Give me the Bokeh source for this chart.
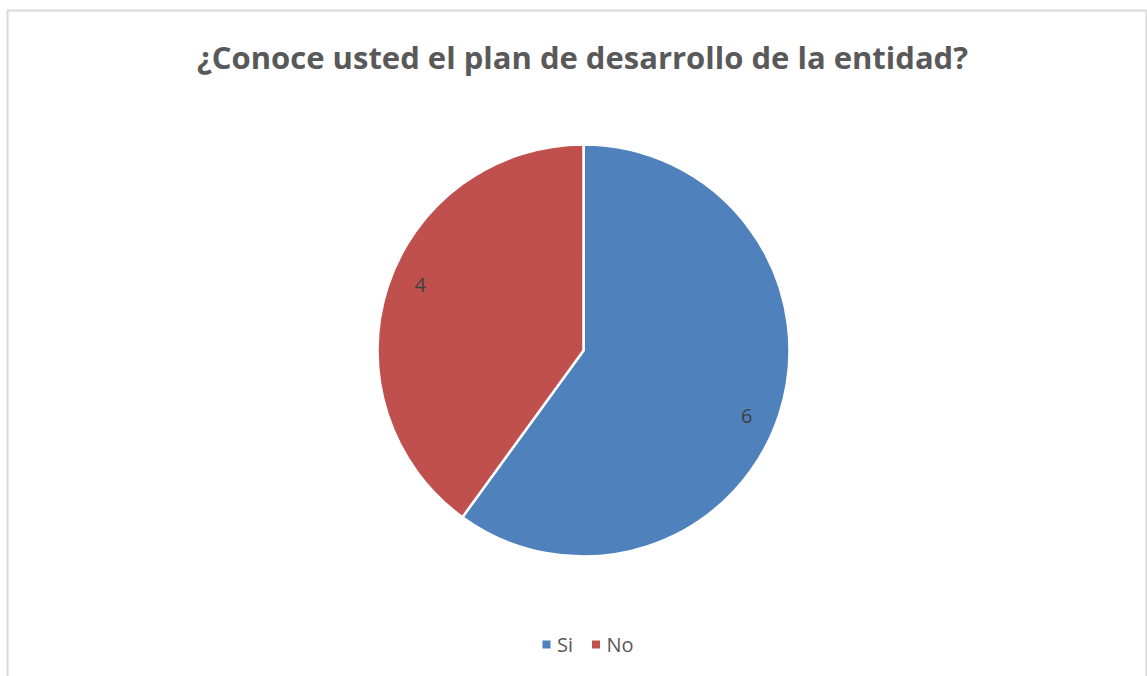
import math
from bokeh.plotting import figure
from bokeh.models import ColumnDataSource
from bokeh.core.properties import value
from bokeh.embed import file_html
from bokeh.resources import INLINE

title_text = "¿Conoce usted el plan de desarrollo de la entidad?"
categories = ["Si", "No"]
counts = [6, 4]
colors = ["#4F81BD", "#C0504D"]

W, H = 1147, 676
cx, cy, R = 583, H - 350, 206

total = sum(counts)
starts, ends, lx, ly = [], [], [], []
acc = 0.0
for c in counts:
    a0 = math.pi / 2 - 2 * math.pi * acc / total
    acc += c
    a1 = math.pi / 2 - 2 * math.pi * acc / total
    starts.append(a0)
    ends.append(a1)
    mid = (a0 + a1) / 2 - math.radians(4)
    lx.append(cx + 0.855 * R * math.cos(mid))
    ly.append(cy + 0.855 * R * math.sin(mid))

src = ColumnDataSource(dict(cat=categories, val=counts, color=colors,
                            start=starts, end=ends, lx=lx, ly=ly,
                            label=[str(v) for v in counts]))

p = figure(width=W, height=H, x_range=(0, W), y_range=(0, H),
           output_backend="svg", toolbar_location=None, min_border=0)
p.axis.visible = False
p.grid.visible = False
p.outline_line_color = None
p.background_fill_color = "white"
p.border_fill_color = "white"

# chart frame
p.quad(left=7, right=1146, top=H - 10, bottom=-20, fill_color=None,
       line_color="#d9d9d9", line_width=2)

p.wedge(x=cx, y=cy, radius=R, start_angle="end", end_angle="start",
        fill_color="color", line_color="white", line_width=2.5, source=src)

p.text(x="lx", y="ly", text="label", source=src, text_align="center",
       text_baseline="middle", text_font=value("Open Sans"),
       text_font_size="20px", text_color="#404040")

p.text(x=[582], y=[H - 56], text=[title_text], text_align="center",
       text_baseline="middle", text_font=value("Open Sans"),
       text_font_style="bold", text_font_size="31px", text_color="#595959")

# legend
leg_x = [546, 595.5]
leg_y = [H - 644, H - 644]
p.rect(x=leg_x, y=leg_y, width=8, height=8, fill_color=colors, line_color=None)
p.text(x=[x + 10.5 for x in leg_x], y=leg_y, text=categories, text_align="left",
       text_baseline="middle", text_font=value("Open Sans"),
       text_font_size="20px", text_color="#595959")

open("out.html", "w").write(file_html(p, INLINE))
